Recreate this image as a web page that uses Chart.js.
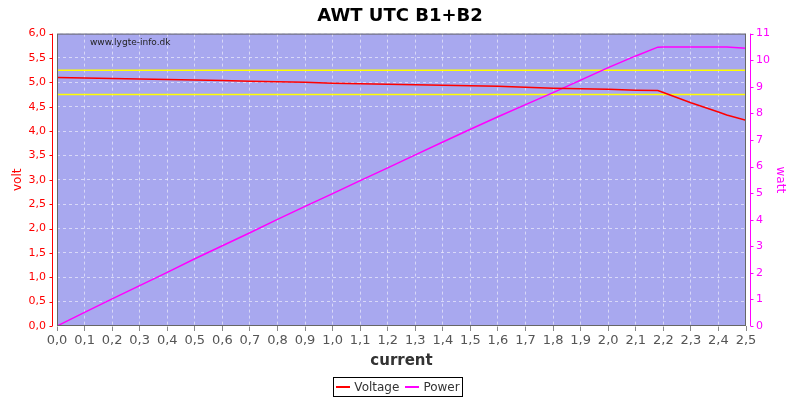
<!DOCTYPE html>
<html>
<head>
<meta charset="utf-8">
<script src="https://cdn.jsdelivr.net/npm/chart.js@4/dist/chart.umd.min.js"></script>
<style>
  body { margin: 0; background: #fff; font-family: "DejaVu Sans", sans-serif; }
  #wrap { position: relative; width: 800px; height: 400px; }
  #legend { position: absolute; left: 333px; top: 377px; width: 130px; height: 20px; border: 1px solid #000;
    box-sizing: border-box; font-size: 12px; line-height: 18px; display: flex; align-items: center; justify-content: center; color: #333; }
  #legend .item { display: flex; align-items: center; margin: 0 3px; }
  #legend .sw { width: 14px; height: 2px; margin-right: 4px; }
</style>
</head>
<body>
<div id="wrap">
  <canvas id="chart" width="800" height="400"></canvas>
  <div id="legend">
    <div class="item"><div class="sw" style="background:#ff0000"></div>Voltage</div>
    <div class="item"><div class="sw" style="background:#ff00ff"></div>Power</div>
  </div>
</div>
<script>
const currents = [0.0, 0.1, 0.2, 0.3, 0.4, 0.5, 0.6, 0.7, 0.8, 0.9, 1.0, 1.1, 1.2, 1.3, 1.4, 1.5, 1.6, 1.7, 1.8, 1.9, 2.0, 2.1, 2.18, 2.2, 2.3, 2.4, 2.43, 2.5];
const volts = [5.10, 5.09, 5.08, 5.07, 5.06, 5.05, 5.04, 5.02, 5.01, 5.00, 4.98, 4.97, 4.96, 4.95, 4.94, 4.93, 4.92, 4.90, 4.88, 4.87, 4.86, 4.84, 4.83, 4.79, 4.58, 4.39, 4.33, 4.22];
const watts = [0.00, 0.51, 1.02, 1.52, 2.02, 2.53, 3.02, 3.51, 4.01, 4.50, 4.98, 5.47, 5.95, 6.44, 6.92, 7.40, 7.87, 8.33, 8.78, 9.25, 9.72, 10.16, 10.49, 10.50, 10.50, 10.50, 10.50, 10.45];
const limitX = [0, 2.5];
const upperLimit = [5.25, 5.25];
const lowerLimit = [4.75, 4.75];

const fmt = v => Number(v).toFixed(1).replace('.', ',');
const pts = (xs, ys) => xs.map((x, i) => ({ x: x, y: ys[i] }));

const plotDeco = {
  id: 'plotDeco',
  beforeDraw(chart) {
    const { ctx, chartArea: a } = chart;
    ctx.save();
    ctx.fillStyle = '#a8a8ef';
    ctx.fillRect(a.left, a.top, a.right - a.left, a.bottom - a.top);
    ctx.restore();
  },
  afterDraw(chart) {
    const { ctx, chartArea: a, scales } = chart;
    ctx.save();
    ctx.strokeStyle = '#666';
    ctx.lineWidth = 1;
    ctx.strokeRect(a.left + 0.5, a.top + 0.5, a.right - a.left - 1, a.bottom - a.top - 1);
    // left axis line
    ctx.strokeStyle = '#ff0000';
    const lx = a.left - 4.5;
    ctx.beginPath();
    ctx.moveTo(lx, a.top); ctx.lineTo(lx, a.bottom);
    scales.y.ticks.forEach(t => {
      const py = Math.round(scales.y.getPixelForValue(t.value)) + 0.5;
      ctx.moveTo(lx, py); ctx.lineTo(lx - 3, py);
    });
    ctx.stroke();
    // right axis line
    ctx.strokeStyle = '#ff00ff';
    const rx = a.right + 4.5;
    ctx.beginPath();
    ctx.moveTo(rx, a.top); ctx.lineTo(rx, a.bottom);
    scales.y2.ticks.forEach(t => {
      const py = Math.round(scales.y2.getPixelForValue(t.value)) + 0.5;
      ctx.moveTo(rx, py); ctx.lineTo(rx + 3, py);
    });
    ctx.stroke();
    ctx.fillStyle = '#222';
    ctx.font = '9px "DejaVu Sans"';
    ctx.textBaseline = 'middle';
    ctx.fillText('www.lygte-info.dk', a.left + 33, a.top + 9);
    ctx.restore();
  }
};

new Chart('chart', {
  type: 'line',
  data: {
    datasets: [
      { label: 'Voltage', data: pts(currents, volts), borderColor: '#ff0000', borderWidth: 1.5, pointRadius: 0, yAxisID: 'y', order: 1 },
      { label: 'Power', data: pts(currents, watts), borderColor: '#ff00ff', borderWidth: 1.5, pointRadius: 0, yAxisID: 'y2', order: 2 },
      { label: 'upper', data: pts(limitX, upperLimit), borderColor: '#ffff00', borderWidth: 1.5, pointRadius: 0, yAxisID: 'y', order: 3 },
      { label: 'lower', data: pts(limitX, lowerLimit), borderColor: '#ffff00', borderWidth: 1.5, pointRadius: 0, yAxisID: 'y', order: 3 }
    ]
  },
  options: {
    responsive: false,
    animation: false,
    layout: { padding: { top: 0, bottom: 30, left: 0, right: 0 } },
    plugins: {
      legend: { display: false },
      tooltip: { enabled: false },
      title: {
        display: true, text: 'AWT UTC B1+B2', color: '#000',
        font: { family: 'DejaVu Sans', size: 18, weight: 'bold' },
        padding: { top: 6, bottom: 6 }
      }
    },
    scales: {
      x: {
        type: 'linear', min: 0, max: 2.5,
        afterFit: s => { s.height = 44; },
        ticks: { stepSize: 0.1, callback: v => fmt(v), color: '#555', font: { family: 'DejaVu Sans', size: 13 }, maxRotation: 0, autoSkip: false, padding: 2 },
        grid: { color: 'rgba(255,255,255,0.55)', tickColor: '#888', tickLength: 5, lineWidth: 1 },
        border: { display: false, dash: [3, 3] },
        title: { display: true, text: 'current', color: '#333', font: { family: 'DejaVu Sans', size: 15, weight: 'bold' }, padding: 0 }
      },
      y: {
        position: 'left', min: 0, max: 6,
        afterFit: s => { s.width = 57; },
        ticks: { stepSize: 0.5, callback: v => fmt(v), color: '#ff0000', font: { family: 'DejaVu Sans', size: 11 }, padding: 11 },
        grid: { color: 'rgba(255,255,255,0.55)', drawTicks: false },
        border: { display: false, dash: [3, 3] },
        title: { display: true, text: 'volt', color: '#ff0000', font: { family: 'DejaVu Sans', size: 12 }, padding: { top: 11, bottom: 0 } }
      },
      y2: {
        position: 'right', min: 0, max: 11,
        afterFit: s => { s.width = 54; },
        ticks: { stepSize: 1, color: '#ff00ff', font: { family: 'DejaVu Sans', size: 11 }, padding: 10 },
        grid: { drawOnChartArea: false, drawTicks: false },
        border: { display: false },
        title: { display: true, text: 'watt', color: '#ff00ff', font: { family: 'DejaVu Sans', size: 12 }, padding: { top: 13, bottom: 0 } }
      }
    }
  },
  plugins: [plotDeco]
});
</script>
</body>
</html>
